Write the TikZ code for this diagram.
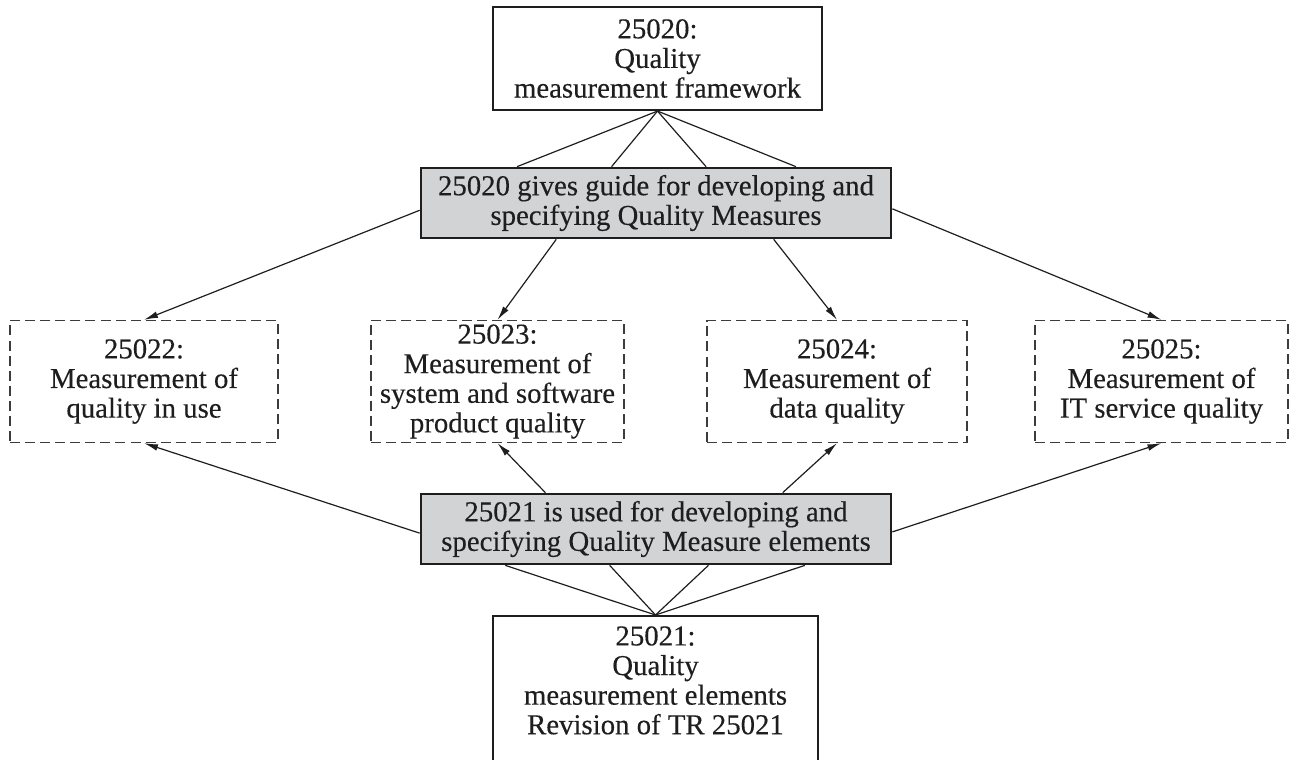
\documentclass[tikz,border=0pt]{standalone}
\usepackage{fontspec}
\setmainfont{Liberation Serif}
\newfontfamily\diagfont{Liberation Serif}[FakeBold=0.3]
\usetikzlibrary{calc,arrows.meta}
\definecolor{boxgray}{RGB}{209,211,213}
\definecolor{inkc}{RGB}{30,30,30}
\definecolor{dashc}{RGB}{60,60,60}
\begin{document}
\begin{tikzpicture}[x=0.75pt,y=-0.75pt,
  txt/.style={font=\diagfont\fontsize{21.6pt}{22.2pt}\selectfont, text=inkc, align=center, inner sep=0pt},
  solidbox/.style={txt, draw=inkc, line width=1.6pt, fill=white},
  graybox/.style={txt, draw=inkc, line width=2pt, fill=boxgray, minimum width=352.5pt, minimum height=52.5pt},
  dashbox/.style={txt, draw=dashc, line width=1pt, dash pattern=on 7.5pt off 3.8pt, minimum height=91.5pt},
  conn/.style={draw=inkc, line width=0.9pt},
  arr/.style={conn, -{Latex[length=10.5pt,width=5pt]}}
]
\useasboundingbox (0,0) rectangle (1296,760);
\clip (0,0) rectangle (1296,760);

% top box
\node[solidbox, minimum width=246.75pt, minimum height=77.25pt] (t20) at (657.5,58.5)
  {25020:\\Quality\\measurement framework};

% gray boxes
\node[graybox] (g1) at (656,203) {25020 gives guide for developing and\\specifying Quality Measures};
\node[graybox] (g2) at (656,529) {25021 is used for developing and\\specifying Quality Measure elements};

% dashed boxes
\node[dashbox, minimum width=201pt]   (d22) at (144,381.5)  {25022:\\Measurement of\\quality in use};
\node[dashbox, minimum width=189.75pt] (d23) at (497.5,381.5) {25023:\\Measurement of\\system and software\\product quality};
\node[dashbox, minimum width=195pt]   (d24) at (837,381.5)  {25024:\\Measurement of\\data quality};
\node[dashbox, minimum width=189.75pt] (d25) at (1161.5,381.5) {25025:\\Measurement of\\IT service quality};

% bottom box (cut off by the page edge)
\node[solidbox, minimum width=243.75pt, minimum height=131.25pt, anchor=north,
  label={[txt, anchor=north, yshift=-8.25pt]north:{25021:\\Quality\\measurement elements\\Revision of TR 25021}}]
  (b21) at (655.5,615) {};

% fan from top box to gray box 1
\foreach \f in {0.206,0.406,0.606,0.796}
  \draw[conn] (t20.south) -- ($(g1.north west)!\f!(g1.north east)$);

% fan from bottom box to gray box 2
\foreach \f in {0.181,0.402,0.611,0.815}
  \draw[conn] (b21.north) -- ($(g2.south west)!\f!(g2.south east)$);

% arrows from gray box 1
\draw[arr] ($(g1.north west)!0.6!(g1.south west)$) -- (d22.north);
\draw[arr] ($(g1.south west)!0.289!(g1.south east)$) -- (d23.north);
\draw[arr] ($(g1.south west)!0.749!(g1.south east)$) -- (d24.north);
\draw[arr] ($(g1.north east)!0.58!(g1.south east)$) -- (d25.north);

% arrows from gray box 2
\draw[arr] ($(g2.north west)!0.557!(g2.south west)$) -- (d22.south);
\draw[arr] ($(g2.north west)!0.266!(g2.north east)$) -- (d23.south);
\draw[arr] ($(g2.north west)!0.768!(g2.north east)$) -- (d24.south);
\draw[arr] ($(g2.north east)!0.54!(g2.south east)$) -- (d25.south);
\end{tikzpicture}
\end{document}
